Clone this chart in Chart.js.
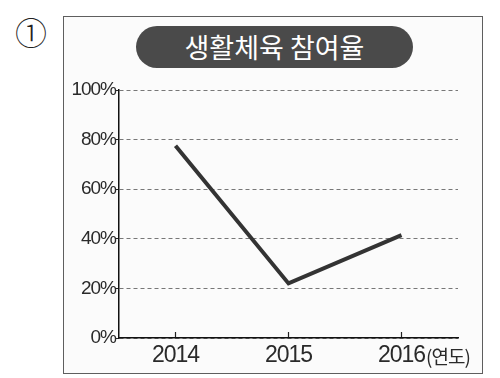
<!DOCTYPE html>
<html>
<head>
<meta charset="utf-8">
<script src="https://cdn.jsdelivr.net/npm/chart.js@4"></script>
<style>
  html, body { margin:0; padding:0; background:#ffffff; }
  #wrap { position:relative; width:500px; height:378px; overflow:hidden; }
  #num { position:absolute; left:15px; top:13px; font-family:"Noto Sans CJK KR", sans-serif; font-weight:300; font-size:32px; line-height:36px; color:#222; }
  #box { position:absolute; left:63px; top:16px; width:418px; height:356px; border:1.5px solid #5e5e5e; background:#fbfbfb; }
  #title { position:absolute; left:136px; top:26px; width:277px; height:42px; border-radius:21px; background:#4a4a4a; color:#fff;
           font-family:"Noto Sans CJK KR", sans-serif; font-weight:400; font-size:27px; line-height:42px; text-align:center; }
  canvas { position:absolute; left:0; top:0; }
</style>
</head>
<body>
<div id="wrap">
  <div id="num">①</div>
  <div id="box"></div>
  <div id="title"></div>
  <canvas id="c" width="500" height="378"></canvas>
</div>
<script>
const chartTitle = '생활체육 참여율';
const categories = ['2014', '2015', '2016'];
const participationRate = [77.5, 22, 41.5];
const yTickValues = [0, 20, 40, 60, 80, 100];
const xUnitLabel = '(연도)';

document.getElementById('title').textContent = chartTitle;

const condensePlugin = {
  id: 'condensePlugin',
  beforeDraw(chart) { chart.ctx.letterSpacing = '-1px'; },
  afterDraw(chart) { chart.ctx.letterSpacing = '0px'; }
};

const unitPlugin = {
  id: 'unitPlugin',
  afterDraw(chart) {
    const xs = chart.scales.x;
    const items = xs.getLabelItems();
    const last = items[items.length - 1];
    if (!last) return;
    const ctx = chart.ctx;
    ctx.save();
    ctx.letterSpacing = '-1px';
    ctx.font = (last.font && last.font.string) || '23px "Liberation Sans", sans-serif';
    const w = ctx.measureText(String(last.label)).width;
    ctx.letterSpacing = '-1px';
    ctx.font = '400 19px "Noto Sans CJK KR", sans-serif';
    ctx.fillStyle = '#2a2a2a';
    ctx.textAlign = 'left';
    ctx.textBaseline = 'alphabetic';
    const xPix = xs.getPixelForTick(items.length - 1) + w / 2 + 1;
    ctx.fillText(xUnitLabel, xPix, 364);
    ctx.restore();
  }
};

new Chart(document.getElementById('c'), {
  type: 'line',
  data: {
    labels: categories,
    datasets: [{
      data: participationRate,
      borderColor: '#333333',
      borderWidth: 4,
      pointRadius: 0,
      tension: 0,
      fill: false,
      borderCapStyle: 'butt',
      borderJoinStyle: 'miter'
    }]
  },
  options: {
    responsive: false,
    animation: false,
    devicePixelRatio: 1,
    layout: { padding: { top: 90, right: 42, left: 0, bottom: 0 } },
    plugins: { legend: { display: false }, tooltip: { enabled: false }, title: { display: false } },
    scales: {
      x: {
        offset: true,
        afterFit(scale) { scale.height = 40; },
        grid: { display: true, drawOnChartArea: false, drawTicks: true, tickLength: -6, tickColor: '#222', tickWidth: 1.2, tickBorderDash: [] },
        border: { display: true, color: '#111', width: 1.5 },
        ticks: { color: '#2a2a2a', padding: 10, maxRotation: 0,
                 font: { family: '"Liberation Sans", sans-serif', size: 23 } }
      },
      y: {
        min: 0, max: 100,
        afterFit(scale) { scale.width = 119; },
        afterBuildTicks(scale) { scale.ticks = yTickValues.map(v => ({ value: v })); },
        grid: { color: '#777', lineWidth: 1, drawTicks: true, tickLength: 3, tickColor: '#222', tickWidth: 1.2, tickBorderDash: [] },
        border: { display: true, color: '#111', width: 1.5, dash: [4, 3] },
        ticks: { color: '#2a2a2a', padding: 0, callback: v => v + '%',
                 font: { family: '"Liberation Sans", sans-serif', size: 19 } }
      }
    }
  },
  plugins: [condensePlugin, unitPlugin]
});
</script>
</body>
</html>
